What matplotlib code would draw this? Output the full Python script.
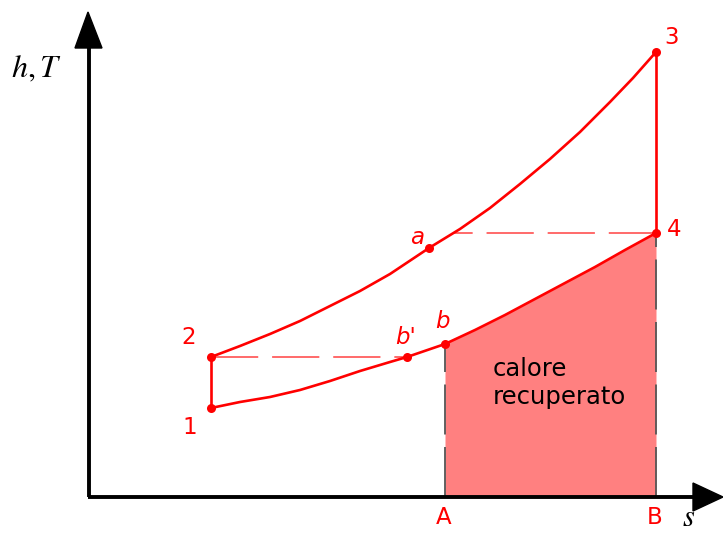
import matplotlib
matplotlib.use("Agg")
import matplotlib.pyplot as plt
from matplotlib.patches import Polygon

plt.rcParams['lines.scale_dashes'] = False
plt.rcParams['mathtext.fontset'] = 'stix'

# Data (s, T) in arbitrary units, origin at the axes corner
upper_s = [122, 151, 181, 211, 241, 271, 301, 340, 371, 401, 431, 461, 491, 521, 544, 567]
upper_T = [140, 151, 163, 176, 191, 206, 223, 249, 268, 289, 313, 338, 365, 395, 419, 445]
lower_s = [122, 151, 181, 211, 241, 271, 301, 318, 356, 386, 416, 446, 476, 506, 536, 567]
lower_T = [89, 95, 100, 107, 116, 126, 135, 140, 153, 167, 182, 198, 214, 230, 247, 264]

point_names = ['1', '2', '3', '4', 'a', 'b', "b'"]
point_s = [122, 122, 567, 567, 340, 356, 318]
point_T = [89, 140, 445, 264, 249, 153, 140]

RED = '#ff0000'
FILL = '#ff8080'

fig = plt.figure(figsize=(7.23, 5.33), dpi=100)
ax = fig.add_axes([0, 0, 1, 1])
ax.set_xlim(-89, 634)
ax.set_ylim(-36, 497)
ax.axis('off')

P = dict(zip(point_names, zip(point_s, point_T)))

# filled region (heat recovered) under lower curve from b to 4
i0 = lower_s.index(P['b'][0])
fs = lower_s[i0:]
fT = lower_T[i0:]
ax.fill_between(fs, 0, fT, color=FILL, lw=0, zorder=1)

# vertical gray dashed lines
for key in ['b', '4']:
    s, T = P[key]
    ax.plot([s, s], [0, T], color='#555555', lw=1.3, dashes=(36, 9), zorder=2)

# horizontal dashed lines (regeneration)
ax.plot([P['2'][0], P["b'"][0]], [P['2'][1], P["b'"][1]], color='#ff5050', lw=1.2,
        dashes=(34, 10), zorder=2)
ax.plot([P['4'][0], 364], [P['4'][1], P['4'][1]], color='#ff5050', lw=1.2,
        dashes=(34, 10), zorder=2)

# cycle
kw = dict(color=RED, lw=1.9, zorder=3, solid_joinstyle='round')
ax.plot(upper_s, upper_T, **kw)
ax.plot(lower_s, lower_T, **kw)
ax.plot([P['1'][0], P['2'][0]], [P['1'][1], P['2'][1]], **kw)
ax.plot([P['3'][0], P['4'][0]], [P['3'][1], P['4'][1]], **kw)
ax.plot(point_s, point_T, 'o', color=RED, ms=6.5, zorder=4, mec='none')

# axes with arrows
ax.plot([0, 0], [0, 460], color='black', lw=2.8, zorder=5, solid_capstyle='butt')
ax.plot([-1.4, 610], [0, 0], color='black', lw=2.8, zorder=5, solid_capstyle='butt')
ax.add_patch(Polygon([[-1, 485], [-14, 449], [13, 449]], closed=True, color='black', zorder=6))
ax.add_patch(Polygon([[634, 0], [604, 14], [604, -14]], closed=True, color='black', zorder=6))

# labels
lab = dict(color=RED, fontsize=16.5, family='DejaVu Sans', ha='center', va='center')
ax.text(101, 69, '1', **lab)
ax.text(100, 160, '2', **lab)
ax.text(583, 460, '3', **lab)
ax.text(585, 267, '4', **lab)
ax.text(328, 259, 'a', style='italic', **lab)
ax.text(353, 176, 'b', style='italic', **lab)
ax.text(317, 159, "b'", style='italic', **lab)
ax.text(355, -21, 'A', **lab)
ax.text(566, -21, 'B', **lab)

ax.text(404, 114, 'calore\nrecuperato', color='black', fontsize=17.5,
        family='DejaVu Sans', ha='left', va='center', linespacing=1.25)

ax.text(-53, 428, '$h,T$', fontsize=23, ha='center', va='center', color='black')
ax.text(600, -35.5, '$s$', fontsize=22, ha='center', va='bottom', color='black')

fig.savefig('out.png', dpi=100)
